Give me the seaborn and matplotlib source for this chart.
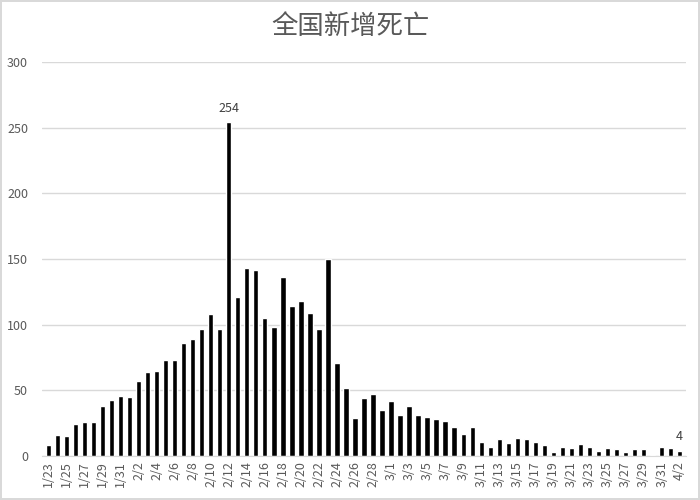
import pandas as pd
import numpy as np
import matplotlib.pyplot as plt
import seaborn as sns
from matplotlib.ticker import FixedLocator

sns.set_style("white")
plt.rcParams["font.family"] = ["Noto Sans CJK SC", "DejaVu Sans"]

# daily new deaths, 1/23 - 4/2
dates = ["1/23", "1/24", "1/25", "1/26", "1/27", "1/28", "1/29", "1/30", "1/31",
         "2/1", "2/2", "2/3", "2/4", "2/5", "2/6", "2/7", "2/8", "2/9", "2/10",
         "2/11", "2/12", "2/13", "2/14", "2/15", "2/16", "2/17", "2/18", "2/19",
         "2/20", "2/21", "2/22", "2/23", "2/24", "2/25", "2/26", "2/27", "2/28",
         "2/29", "3/1", "3/2", "3/3", "3/4", "3/5", "3/6", "3/7", "3/8", "3/9",
         "3/10", "3/11", "3/12", "3/13", "3/14", "3/15", "3/16", "3/17", "3/18",
         "3/19", "3/20", "3/21", "3/22", "3/23", "3/24", "3/25", "3/26", "3/27",
         "3/28", "3/29", "3/30", "3/31", "4/1", "4/2"]
deaths = [8, 16, 15, 24, 26, 26, 38, 43, 46,
          45, 57, 64, 65, 73, 73, 86, 89, 97, 108,
          97, 254, 121, 143, 142, 105, 98, 136, 114,
          118, 109, 97, 150, 71, 52, 29, 44, 47,
          35, 42, 31, 38, 31, 30, 28, 27, 22, 17,
          22, 11, 7, 13, 10, 14, 13, 11, 8,
          3, 7, 6, 9, 7, 4, 6, 5, 3,
          5, 5, 1, 7, 6, 4]
labeled = {"2/12": "254", "4/2": "4"}

df = pd.DataFrame({"date": dates, "deaths": deaths})

fig = plt.figure(figsize=(7, 5), dpi=100)
fig.patch.set_edgecolor("#d9d9d9")
fig.patch.set_linewidth(1.5)
ax = fig.add_axes([0.06, 0.088, 0.92, 0.788])

sns.barplot(data=df, x="date", y="deaths", color="black", width=0.6, ax=ax,
            saturation=1)

ax.set_ylim(0, 300)
ax.set_yticks(range(0, 301, 50))
ax.set_xlim(-0.7, len(dates) - 0.3)
ax.yaxis.grid(True, color="#d9d9d9", linewidth=1)
ax.set_axisbelow(True)
for s in ["top", "right", "left"]:
    ax.spines[s].set_visible(False)
ax.spines["bottom"].set_color("#d9d9d9")

idx = list(range(0, len(dates), 2))
ax.set_xticks(idx)
ax.set_xticklabels([dates[i] for i in idx], rotation=90)
ax.xaxis.set_minor_locator(FixedLocator([i - 0.5 for i in idx]))
ax.tick_params(axis="x", which="major", length=0, pad=4, labelsize=9,
               labelcolor="#595959")
ax.tick_params(axis="x", which="minor", length=5, color="#d9d9d9", width=1)
ax.tick_params(axis="y", length=0, pad=10, labelsize=9, labelcolor="#595959")
ax.set_xlabel("")
ax.set_ylabel("")

for d, txt in labeled.items():
    i = dates.index(d)
    ax.text(i, deaths[i] + 6, txt, ha="center", va="bottom", fontsize=9,
            color="#404040")

fig.suptitle("全国新增死亡", y=0.975, fontsize=19, color="#595959")

fig.savefig("out.png", dpi=100)
